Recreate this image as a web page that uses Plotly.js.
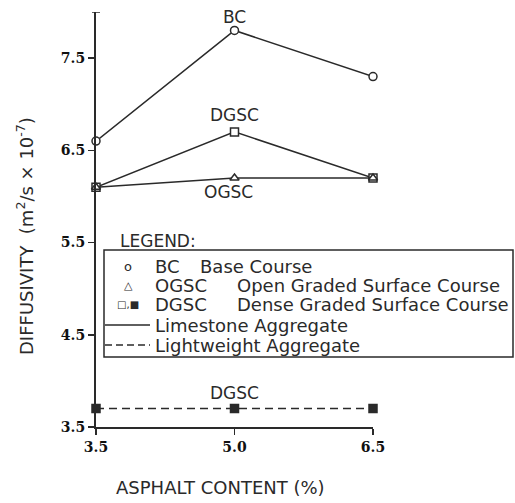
<!DOCTYPE html>
<html>
<head>
<meta charset="utf-8">
<script src="https://cdn.plot.ly/plotly-3.0.1.min.js"></script>
<style>html,body{margin:0;padding:0;background:#fff;}#chart{width:515px;height:503px;}</style>
</head>
<body>
<div id="chart"></div>
<script>
// Data
const asphaltContent = [3.5, 5.0, 6.5];
const bcLimestone = [6.6, 7.8, 7.3];
const ogscLimestone = [6.1, 6.2, 6.2];
const dgscLimestone = [6.1, 6.7, 6.2];
const dgscLightweight = [3.7, 3.7, 3.7];
const xTickVals = [3.5, 5.0, 6.5];
const xTickText = ['3.5', '5.0', '6.5'];
const yTickVals = [3.5, 4.5, 5.5, 6.5, 7.5];
const yTickText = ['3.5', '4.5', '5.5', '6.5', '7.5'];
const yAxisTop = 8.0;

const ink = '#2a2a2a';
const sans = 'DejaVu Sans, sans-serif';
const L = 96, R = 142, T = 12, B = 76, W = 515, H = 503;
const pw = W - L - R, ph = H - T - B;
const px = v => (v - L) / pw;
const py = v => (H - B - v) / ph;

function series(y, symbol, fill, dash) {
  return {
    x: asphaltContent, y: y, type: 'scatter', mode: 'lines+markers',
    cliponaxis: false, showlegend: false, hoverinfo: 'skip',
    line: {color: ink, width: 1.5, dash: dash || 'solid'},
    marker: {symbol: symbol, size: 8, color: fill, line: {color: ink, width: 1.5}}
  };
}

const traces = [
  series(bcLimestone, 'circle', '#fff'),
  series(dgscLimestone, 'square', '#fff'),
  series(ogscLimestone, 'triangle-up', '#fff'),
  series(dgscLightweight, 'square', ink, '8px,5px')
];

const txt = (s, x, y, opts) => Object.assign({
  text: s, x: x, y: y, xref: 'paper', yref: 'paper', showarrow: false,
  xanchor: 'left', yanchor: 'middle', font: {family: sans, size: 18, color: ink}
}, opts || {});

const rows = [py(266), py(285), py(304), py(325), py(345)];

const annotations = [
  // data labels
  {text: 'BC', x: asphaltContent[1], y: bcLimestone[1], xref: 'x', yref: 'y', showarrow: false,
   yshift: 13, font: {family: sans, size: 17, color: ink}},
  {text: 'DGSC', x: asphaltContent[1], y: dgscLimestone[1], xref: 'x', yref: 'y', showarrow: false,
   yshift: 17, font: {family: sans, size: 17, color: ink}},
  {text: 'OGSC', x: asphaltContent[1], y: ogscLimestone[1], xref: 'x', yref: 'y', showarrow: false,
   yshift: -14, xshift: -6, font: {family: sans, size: 17, color: ink}},
  {text: 'DGSC', x: asphaltContent[1], y: dgscLightweight[1], xref: 'x', yref: 'y', showarrow: false,
   yshift: 16, font: {family: sans, size: 17, color: ink}},
  // legend
  txt('LEGEND:', px(118), py(241), {font: {family: sans, size: 17, color: ink}}),
  txt('o', px(128), rows[0], {xanchor: 'center', font: {family: sans, size: 13, color: ink}}),
  txt('\u25B3', px(128), rows[1], {xanchor: 'center', font: {family: sans, size: 11, color: ink}}),
  txt('\u25A1,\u25A0', px(128), rows[2], {xanchor: 'center', font: {family: sans, size: 10, color: ink}}),
  txt('BC', px(153), rows[0]),
  txt('Base Course', px(198), rows[0]),
  txt('OGSC', px(153), rows[1]),
  txt('Open Graded Surface Course', px(235), rows[1]),
  txt('DGSC', px(153), rows[2]),
  txt('Dense Graded Surface Course', px(235), rows[2]),
  txt('Limestone Aggregate', px(153), rows[3]),
  txt('Lightweight Aggregate', px(153), rows[4]),
  // axis titles
  txt('ASPHALT CONTENT (%)', px(220), py(487), {xanchor: 'center', font: {family: sans, size: 18, color: ink}}),
  txt('DIFFUSIVITY  (m<sup>2</sup>/s \u00D7 10<sup>-7</sup>)', px(25), py(236),
      {xanchor: 'center', textangle: -90, font: {family: sans, size: 18, color: ink}})
];

const shapes = [
  {type: 'rect', xref: 'paper', yref: 'paper', x0: px(104), x1: px(513), y0: py(250), y1: py(357),
   line: {color: ink, width: 1.5}},
  {type: 'line', xref: 'paper', yref: 'paper', x0: px(105), x1: px(150), y0: rows[3], y1: rows[3],
   line: {color: ink, width: 1.3}},
  {type: 'line', xref: 'paper', yref: 'paper', x0: px(105), x1: px(150), y0: rows[4], y1: rows[4],
   line: {color: ink, width: 1.3, dash: '7px,4px'}},
  // small cap at top of the y axis
  {type: 'line', xref: 'paper', yref: 'y', x0: px(92), x1: px(100), y0: yAxisTop, y1: yAxisTop,
   line: {color: ink, width: 1.5}}
];

const tickFont = {family: 'DejaVu Serif, serif', size: 14, weight: 'bold', color: '#111'};

const layout = {
  width: W, height: H,
  margin: {l: L, r: R, t: T, b: B, pad: 0},
  paper_bgcolor: '#fff', plot_bgcolor: '#fff',
  showlegend: false,
  xaxis: {
    range: [3.5, 6.5], tickvals: xTickVals, ticktext: xTickText,
    showgrid: false, zeroline: false, showline: true, linecolor: ink, linewidth: 2,
    ticks: 'outside', ticklen: 6, tickwidth: 1.5, tickcolor: ink, tickfont: tickFont
  },
  yaxis: {
    range: [3.5, yAxisTop], tickvals: yTickVals, ticktext: yTickText,
    showgrid: false, zeroline: false, showline: true, linecolor: ink, linewidth: 2,
    ticks: 'outside', ticklen: 6, tickwidth: 1.5, tickcolor: ink, tickfont: tickFont
  },
  annotations: annotations,
  shapes: shapes
};

Plotly.newPlot('chart', traces, layout, {staticPlot: true, displayModeBar: false});
</script>
</body>
</html>
